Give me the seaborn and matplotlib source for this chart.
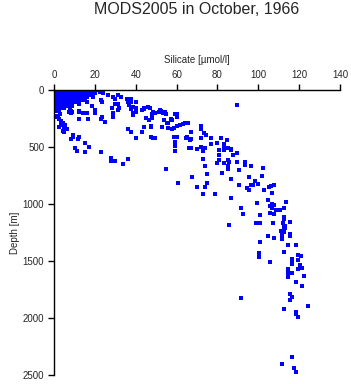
import numpy as np
import pandas as pd
import matplotlib
matplotlib.use("Agg")
import matplotlib.pyplot as plt
import seaborn as sns

# Dense near-surface block, one row per depth level
block_depths = [0, 15, 30, 45, 60, 75, 90, 105, 120, 140, 160, 180]
block_si = [
    [0.5, 1.5, 2.5, 3.5, 4.5, 5.5, 6.5, 7.5, 8.5, 9.5, 10.5, 11.5, 12.5, 13.5, 14.5, 16, 17.5, 19, 21],
    [0.5, 2, 3.5, 5, 6.5, 8, 9.5, 11, 12.5, 14, 15.5, 17, 18.5, 22.5],
    [0.5, 1.5, 3, 4.5, 6, 7.5, 9, 10.5, 12, 13.5, 15, 16.5, 18, 20, 24],
    [0.5, 2, 3.5, 5, 6.5, 8, 9.5, 11, 12.5, 14, 15.5, 17, 26.6, 31.5],
    [0.5, 1.5, 3, 4.5, 6, 7.5, 9, 10.5, 12, 14, 16, 19, 29, 32.6],
    [0.5, 2, 3.5, 5, 6.5, 8, 9.5, 11, 13, 15, 30, 35.6, 37.5],
    [0.5, 1.5, 3, 4.5, 6, 8, 10, 12, 14, 23],
    [0.5, 2, 3.5, 5, 7, 9, 11, 16, 23.3, 36, 37.5, 40],
    [0.5, 2, 3.5, 5.5, 8, 12, 30, 31.5],
    [0.5, 2, 4, 6, 9, 18.4],
    [1, 3, 5, 8, 28.2, 37.5, 44.2],
    [0.5, 2.5, 8.3, 12.4, 20],
]

# Upper ocean scatter (silicate < ~50)
upper_si = [12.2, 16.5, 12.4, 14, 16, 20.2, 20.2, 23.3, 23.2, 25, 29, 29, 31.2, 32,
            38.7, 38.5, 38.8, 36.9, 36, 40, 37.5, 40, 40, 43.2, 44.2, 46.2, 48.6, 48,
            48, 45, 46.5, 36.4, 37.7, 43.2, 44.2, 47.3, 40, 48.3, 49.4, 15.3, 17.3,
            10.1, 11.4, 15.3, 23.2, 28, 28, 30, 33.9, 36.2, 8.3, 9.3, 9.1, 12.4, 11.7,
            4.5, 5, 6.2, 2.9, 1.5, 0.8, 2, 3.3, 2.6, 4.5, 3.6, 5.4, 5, 2.5, 8.6, 7.2, 8.2]
upper_depth = [257, 257, 196, 205, 199, 175, 205, 240, 257, 281, 234, 199, 175, 155,
               222, 205, 146, 132, 105, 105, 164, 160, 193, 175, 164, 152, 193, 213,
               248, 246, 263, 345, 368, 368, 322, 322, 424, 418, 424, 468, 503,
               511, 538, 546, 546, 599, 623, 620, 652, 608, 433, 392, 409, 409, 430,
               360, 371, 339, 213, 225, 234, 234, 272, 257, 287, 307, 310, 322, 322, 193, 190, 205]

# Intermediate layer (silicate ~45-105)
mid_si = [47, 48.3, 49.5, 51.5, 52.2, 53.5, 54, 54.8, 51.9, 54.3, 59, 60, 60, 54,
          56, 57.9, 55.5, 57.3, 47.3, 53, 56, 58, 58.5, 60, 61.7, 63.3, 64, 65.7,
          71.8, 71.8, 67, 73.6, 74.4, 77, 72, 67, 81.7, 84.8, 80, 77, 83, 83, 84.8,
          86.6, 86.6, 47.3, 49, 58.7, 60, 59, 65, 64.5, 66.7, 59, 59, 59, 66, 67,
          69.8, 72, 72.8, 74, 71.8, 81, 83, 81, 87.8, 89.7, 89.7, 72.8, 74, 55,
          74.9, 67.7, 60.8, 74.9, 69.8, 73.9, 72.9, 78.8, 82, 85, 81, 81, 80, 83,
          85.8, 89.7, 85, 85, 93.6, 93.6, 96.6, 90.7, 102.5, 87.8, 86.8, 85]
mid_depth = [161, 205, 199, 190, 181, 205, 196, 213, 175, 193, 210, 213, 233, 266,
             289, 266, 287, 257, 316, 327, 330, 345, 330, 318, 310, 301, 292, 292,
             316, 342, 371, 380, 395, 418, 424, 433, 424, 441, 462, 476, 476, 500, 509,
             520, 530, 415, 424, 415, 415, 453, 415, 418, 439, 494, 535, 491, 506, 509,
             515, 500, 535, 511, 497, 529, 529, 567, 567, 555, 132, 608, 664, 696,
             740, 760, 818, 818, 854, 854, 909, 912, 731, 614, 614, 570, 643, 643,
             634, 634, 667, 690, 629, 655, 670, 705, 684, 570, 526, 506]

# Deep water
deep_si = [86.8, 95.6, 101.8, 98.5, 90.7, 94.6, 95.6, 96.6, 97.6, 99.8, 102.8, 105,
           106, 107.8, 106.7, 86.8, 99.5, 104.7, 105.7, 106.7, 107.7, 106.7, 108.7,
           110.6, 112.6, 113.7, 105.7, 107.7, 91.7, 92.7, 100.8, 112.6, 112.6, 115.7,
           112, 113, 113, 85.8, 99, 100.8, 107, 112.6, 111, 112.7, 111.6, 111.6,
           115.7, 115.7, 104.9, 107.8, 100.8, 114.5, 118.6, 100.5, 100.5, 100.5,
           112.6, 119.6, 120.7, 116.6, 116.6, 119.6, 105.7, 116.6, 120.5, 121.5,
           119.6, 114.7, 114.7, 114.7, 116.6, 122.5, 118.6, 121.5, 91.7, 115.7,
           116.6, 115.7, 124.5, 112.7, 118.6, 118.6, 119.6, 116.6, 111.7, 117.6, 118.6]
deep_depth = [783, 766, 757, 801, 836, 857, 877, 836, 836, 827, 877, 848,
              842, 836, 906, 950, 991, 968, 1020, 997, 1005, 1038, 1052,
              1052, 1038, 985, 1079, 1090, 1038, 1090, 1099, 1116, 1135, 1160,
              1169, 1193, 1210, 1181, 1169, 1169, 1166, 1199, 1240, 1248, 1272, 1310,
              1263, 1280, 1280, 1301, 1336, 1359, 1357, 1427, 1445, 1462,
              1424, 1450, 1459, 1486, 1503, 1491, 1512, 1524, 1538, 1564,
              1573, 1573, 1608, 1637, 1608, 1634, 1687, 1719, 1824, 1789,
              1815, 1839, 1897, 1923, 1944, 1961, 1991, 2344, 2406, 2438, 2476]

x_ticks = [0, 20, 40, 60, 80, 100, 120, 140]
y_ticks = [0, 500, 1000, 1500, 2000, 2500]

rows = []
for d, sis in zip(block_depths, block_si):
    rows += [(s, d) for s in sis]
rows += list(zip(upper_si, upper_depth))
rows += list(zip(mid_si, mid_depth))
rows += list(zip(deep_si, deep_depth))
df = pd.DataFrame(rows, columns=["silicate", "depth"])

sns.set_style("ticks")
plt.rcParams['font.family'] = ['Liberation Sans', 'DejaVu Sans']

fig = plt.figure(figsize=(3.51, 3.84), dpi=100)
ax = fig.add_axes([54 / 351, 1 - 375 / 384, 286 / 351, 285 / 384])
sns.scatterplot(data=df, x="silicate", y="depth", ax=ax, marker="s", s=5,
                color="#0000ff", linewidth=0, legend=False)

ax.set_xlim(0, 140)
ax.set_ylim(2500, 0)
ax.set_xticks(x_ticks)
ax.set_yticks(y_ticks)
ax.xaxis.tick_top()
ax.xaxis.set_label_position("top")
ax.tick_params(axis="both", direction="out", length=4, width=1, color="black",
               labelsize=7, pad=3)
ax.set_xlabel("Silicate [µmol/l]", fontsize=7, labelpad=5)
ax.set_ylabel("Depth [m]", fontsize=7, labelpad=2)
for side in ["right", "bottom"]:
    ax.spines[side].set_visible(False)
for side in ["left", "top"]:
    ax.spines[side].set_color("black")
    ax.spines[side].set_linewidth(1)

fig.text(197 / 351, 1 - 9 / 384, "MODS2005 in October, 1966", ha="center",
         va="center", fontsize=11.5)

fig.savefig("out.png", dpi=100)
